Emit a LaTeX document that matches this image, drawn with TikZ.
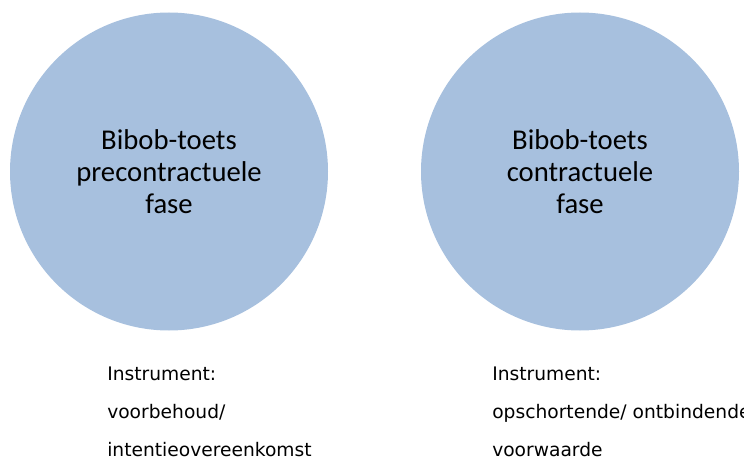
\documentclass[tikz,border=0pt]{standalone}
\usepackage{fontspec}
\setmainfont{Carlito}
\newfontfamily\instrfont{DejaVu Sans}
\usepackage{xcolor}
\definecolor{phaseblue}{RGB}{167,192,222}

\begin{document}
\begin{tikzpicture}[x=0.75pt,y=0.75pt,yscale=-1,xscale=1,
  phase/.style={circle,fill=phaseblue,draw=none,minimum size=238.5pt,inner sep=0pt,align=center,font=\fontsize{21.5}{24}\selectfont},
  instr/.style={anchor=base west,align=left,inner sep=0pt,font=\instrfont\fontsize{14}{28.5}\selectfont}]
\useasboundingbox (0,0) rectangle (744,460);

%Shape: Circle [id:pre] 
\node [phase] (pre) at (169,171.5) {Bibob-toets\\precontractuele\\fase};
%Shape: Circle [id:con] 
\node [phase] (con) at (580,171.5) {Bibob-toets\\contractuele\\fase};

% Text Node
\node [instr] (preinstr) at (107,456) {Instrument:\\voorbehoud/\\intentieovereenkomst};
% Text Node
\node [instr] (coninstr) at (492,456) {Instrument:\\opschortende/ ontbindende\\voorwaarde};

\end{tikzpicture}
\end{document}
